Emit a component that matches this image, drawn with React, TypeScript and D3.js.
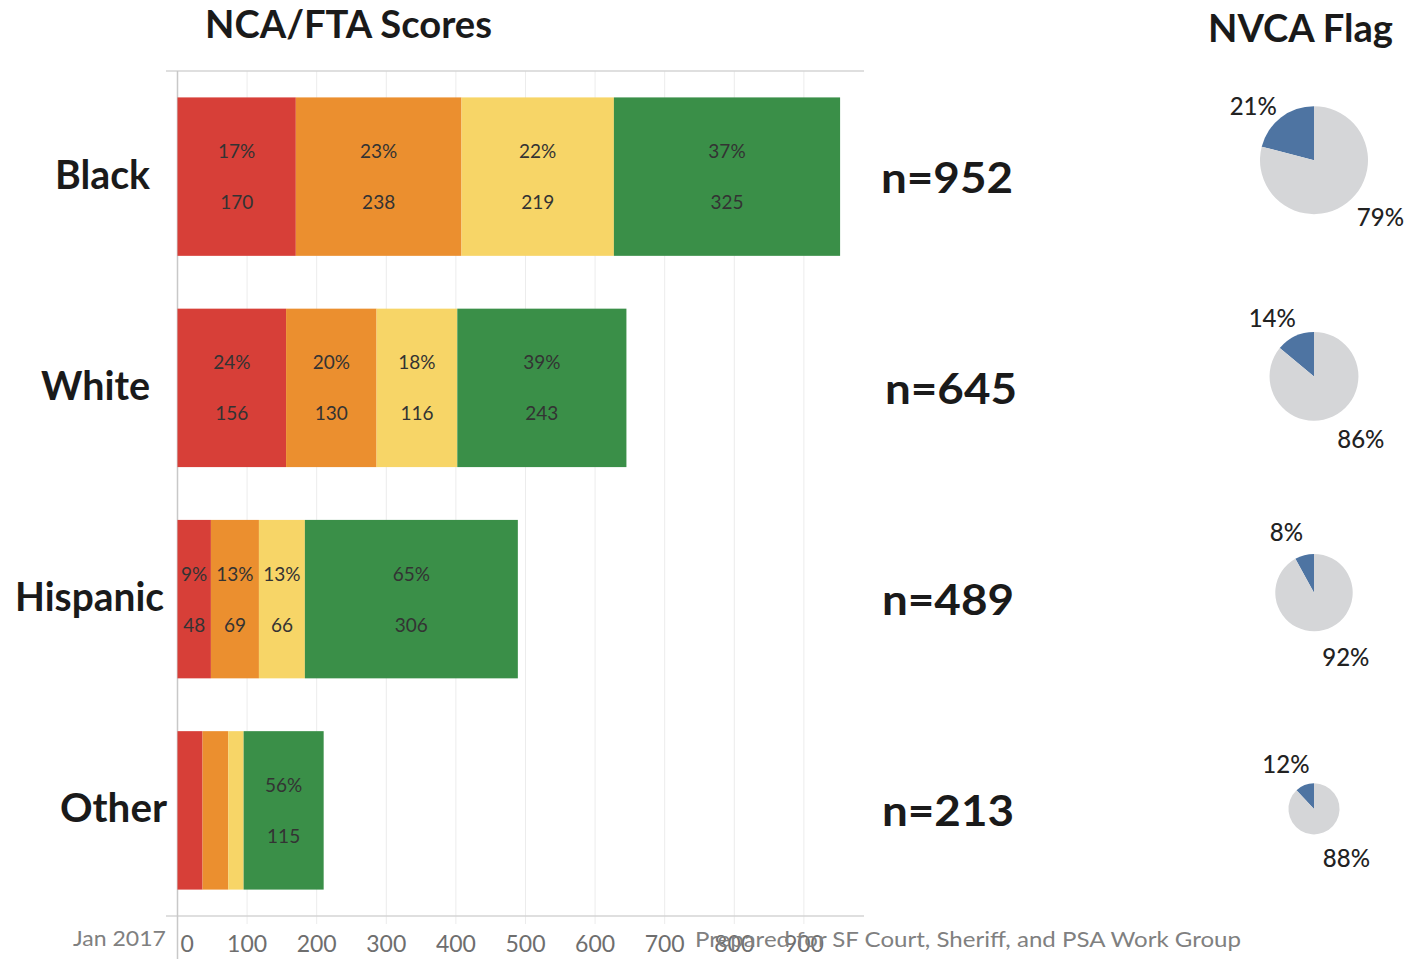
import React from "react";
import * as d3 from "d3";

// ---- data ----
const categories = ["Black", "White", "Hispanic", "Other"];
const scoreNames = ["High", "Elevated", "Moderate", "Low"];
const highCounts = [170, 156, 48, 36];
const elevatedCounts = [238, 130, 69, 37];
const moderateCounts = [219, 116, 66, 22];
const lowCounts = [325, 243, 306, 115];
const highPct = [17, 24, 9, 17];
const elevatedPct = [23, 20, 13, 17];
const moderatePct = [22, 18, 13, 10];
const lowPct = [37, 39, 65, 56];
const totals = [952, 645, 489, 213];
const nvcaFlagPct = [21, 14, 8, 12];
const xTicks = [0, 100, 200, 300, 400, 500, 600, 700, 800, 900];

const seriesCounts = [highCounts, elevatedCounts, moderateCounts, lowCounts];
const seriesPct = [highPct, elevatedPct, moderatePct, lowPct];
const seriesColors = ["#d73f38", "#eb8f2f", "#f7d567", "#3a8f48"];

const W = 1405;
const H = 959;
const FONT = "Lato, 'Open Sans', sans-serif";

// layout constants
const plotLeft = 177.5;
const plotTop = 71;
const plotBottom = 916;
const frameLeft = 166;
const frameRight = 864;
const labelEndX = [150, 150, 164, 167];
const labelWidths = [95, 109, 149, 107];
const nLabelX = [881, 885, 882, 882];

export default function App() {
  const x = d3.scaleLinear().domain([0, 100]).range([plotLeft, plotLeft + 69.6]);
  const y = d3
    .scaleBand<string>()
    .domain(categories)
    .range([plotTop, plotBottom])
    .paddingInner(0.25)
    .paddingOuter(0.125);
  const yPie = d3.scaleBand<string>().domain(categories).range([52, 917]);
  const r = d3.scaleSqrt().domain([0, d3.max(totals) as number]).range([0, 54]);
  const pieCx = 1314;

  const stackRows = categories.map((c, i) => {
    const row: any = { cat: c };
    scoreNames.forEach((s, j) => (row[s] = seriesCounts[j][i]));
    return row;
  });
  const stacked = d3.stack<any>().keys(scoreNames)(stackRows);

  const arc = d3.arc<any>();

  return (
    <svg
      width={W}
      height={H}
      style={{ position: "absolute", left: 0, top: 0, background: "#fff" }}
      fontFamily={FONT}
    >
      {/* gridlines */}
      {xTicks.map((t) => (
        <line key={"g" + t} x1={x(t)} x2={x(t)} y1={plotTop} y2={924} stroke="#ececec" strokeWidth={1} />
      ))}
      {/* frame lines */}
      <line x1={frameLeft} x2={frameRight} y1={plotTop} y2={plotTop} stroke="#d4d4d4" strokeWidth={1.5} />
      <line x1={frameLeft} x2={frameRight} y1={plotBottom} y2={plotBottom} stroke="#d4d4d4" strokeWidth={1.5} />
      <line x1={plotLeft} x2={plotLeft} y1={plotTop} y2={H} stroke="#c8c8c8" strokeWidth={1.5} />

      {/* bars */}
      {stacked.map((layer, j) =>
        layer.map((d, i) => {
          const x0 = x(d[0]);
          const x1 = x(d[1]);
          const yy = y(categories[i]) as number;
          const bw = y.bandwidth();
          const cx = (x0 + x1) / 2;
          const cy = yy + bw / 2;
          const show = x1 - x0 >= 30;
          return (
            <g key={j + "-" + i}>
              <rect x={x0} y={yy} width={x1 - x0} height={bw} fill={seriesColors[j]} />
              {show && (
                <>
                  <text x={cx} y={cy - 26} textAnchor="middle" dominantBaseline="central" fontSize={19} fill="#333">
                    {seriesPct[j][i] + "%"}
                  </text>
                  <text x={cx} y={cy + 25} textAnchor="middle" dominantBaseline="central" fontSize={19} fill="#333">
                    {seriesCounts[j][i]}
                  </text>
                </>
              )}
            </g>
          );
        })
      )}

      {/* category labels */}
      {categories.map((c, i) => {
        const cy = (y(c) as number) + y.bandwidth() / 2;
        return (
          <text
            key={"c" + c}
            x={labelEndX[i] - labelWidths[i]}
            y={cy + 12}
            fontSize={40}
            fontWeight="bold"
            fill="#1a1a1a"
            textLength={labelWidths[i]}
            lengthAdjust="spacingAndGlyphs"
          >
            {c}
          </text>
        );
      })}

      {/* n labels */}
      {categories.map((c, i) => {
        const cy = (y(c) as number) + y.bandwidth() / 2;
        return (
          <text
            key={"n" + c}
            x={nLabelX[i]}
            y={cy + 16}
            fontSize={42}
            fontWeight="bold"
            fill="#1a1a1a"
            textLength={132}
            lengthAdjust="spacingAndGlyphs"
          >
            {"n=" + totals[i]}
          </text>
        );
      })}

      {/* x tick labels */}
      {xTicks.map((t) => (
        <text
          key={"t" + t}
          x={t === 0 ? x(t) + 3 : x(t)}
          y={952}
          textAnchor={t === 0 ? "start" : "middle"}
          fontSize={23}
          fill="#6e6e6e"
        >
          {t}
        </text>
      ))}

      {/* titles */}
      <text x={205} y={38} fontSize={39} fontWeight="bold" fill="#1a1a1a" textLength={287} lengthAdjust="spacingAndGlyphs">
        NCA/FTA Scores
      </text>
      <text x={1208} y={42} fontSize={39} fontWeight="bold" fill="#1a1a1a" textLength={185} lengthAdjust="spacingAndGlyphs">
        NVCA Flag
      </text>

      {/* footer */}
      <text x={73} y={946} fontSize={22} fill="#808080" textLength={93} lengthAdjust="spacingAndGlyphs">
        Jan 2017
      </text>
      <text x={695} y={947} fontSize={22} fill="#808080" textLength={546} lengthAdjust="spacingAndGlyphs">
        Prepared for SF Court, Sheriff, and PSA Work Group
      </text>

      {/* pies */}
      {categories.map((c, i) => {
        const cy = (yPie(c) as number) + yPie.bandwidth() / 2;
        const rad = r(totals[i]);
        const p = nvcaFlagPct[i] / 100;
        const pie = d3
          .pie<number>()
          .sort(null)
          .startAngle(-p * 2 * Math.PI)
          .endAngle(2 * Math.PI - p * 2 * Math.PI);
        const arcs = pie([nvcaFlagPct[i], 100 - nvcaFlagPct[i]]);
        const pieColors = ["#4e74a2", "#d5d6d8"];
        const minorMid = (arcs[0].startAngle + arcs[0].endAngle) / 2 - (10 * Math.PI) / 180;
        const majorMid = (arcs[1].startAngle + arcs[1].endAngle) / 2 - (12 * Math.PI) / 180;
        const d1 = rad + 28;
        const d2 = rad + 33;
        return (
          <g key={"p" + c} transform={`translate(${pieCx},${cy})`}>
            {arcs.map((a, k) => (
              <path key={k} d={arc({ ...a, innerRadius: 0, outerRadius: rad }) as string} fill={pieColors[k]} />
            ))}
            <text
              x={Math.sin(minorMid) * d1}
              y={-Math.cos(minorMid) * d1}
              textAnchor="middle"
              dominantBaseline="central"
              fontSize={24}
              fontWeight={500}
              fill="#222"
            >
              {nvcaFlagPct[i] + "%"}
            </text>
            <text
              x={Math.sin(majorMid) * d2}
              y={-Math.cos(majorMid) * d2}
              textAnchor="middle"
              dominantBaseline="central"
              fontSize={24}
              fontWeight={500}
              fill="#222"
            >
              {100 - nvcaFlagPct[i] + "%"}
            </text>
          </g>
        );
      })}
    </svg>
  );
}
